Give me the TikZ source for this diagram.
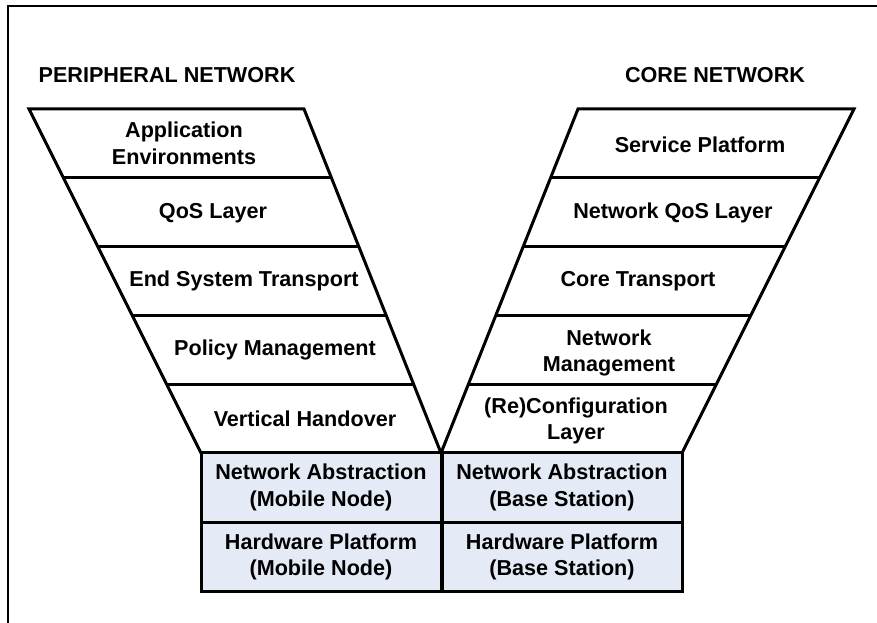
\documentclass[tikz,border=0pt]{standalone}
\usepackage{fontspec}
\setmainfont{Liberation Sans}
\usepackage{xcolor}
\definecolor{boxfill}{RGB}{228,234,246}

\tikzset{
  layer/.style={font=\fontsize{16.2}{20}\selectfont\bfseries, align=center, inner sep=0pt},
  title/.style={font=\fontsize{16.2}{20}\selectfont\bfseries, inner sep=0pt},
  hwbox/.style={layer, draw, line width=2.25pt, fill=boxfill,
    minimum width=180pt, minimum height=52pt},
  funnel/.style={line width=2.25pt, line join=miter}
}

\begin{document}
\begin{tikzpicture}[x=0.75pt,y=-0.75pt]
    \useasboundingbox (0,0) rectangle (877,623);

    % Draw frame
    \draw[line width=1.5pt] (8,623) -- (8,6) -- (877,6);

    % Draw titles
    \node[title] (periph) at (167,75) {PERIPHERAL NETWORK};
    \node[title] (core) at (715,75) {CORE NETWORK};

    % Draw funnels
    \draw[funnel] (29,109) -- (304,109) -- (441,453) -- (201,453) -- cycle;
    \draw[funnel] (854,109) -- (578,109) -- (441,453) -- (682,453) -- cycle;
    \foreach \k in {1,...,4} {
        \draw[funnel] ({29+172*\k/5},{109+344*\k/5}) -- ({304+137*\k/5},{109+344*\k/5});
        \draw[funnel] ({854-172*\k/5},{109+344*\k/5}) -- ({578-137*\k/5},{109+344*\k/5});
    }

    % Peripheral layers
    \node[layer] (appenv) at (184,143) {Application\\Environments};
    \node[layer] (qos) at (213,213) {QoS Layer};
    \node[layer] (esys) at (244,281) {End System Transport};
    \node[layer] (policy) at (275,350) {Policy Management};
    \node[layer] (vho) at (305,419) {Vertical Handover};

    % Core layers
    \node[layer] (service) at (700,145) {Service Platform};
    \node[layer] (netqos) at (673,213) {Network QoS Layer};
    \node[layer] (coretr) at (638,281) {Core Transport};
    \node[layer] (netman) at (609,353) {Network\\Management};
    \node[layer] (reconf) at (576,421) {(Re)Configuration\\Layer};

    % Bottom boxes
    \node[hwbox] (naMN) at (321,487.5) {Network Abstraction\\(Mobile Node)};
    \node[hwbox] (hwMN) at (321,557) {Hardware Platform\\(Mobile Node)};
    \node[hwbox] (naBS) at (562,487.5) {Network Abstraction\\(Base Station)};
    \node[hwbox] (hwBS) at (562,557) {Hardware Platform\\(Base Station)};

\end{tikzpicture}
\end{document}
